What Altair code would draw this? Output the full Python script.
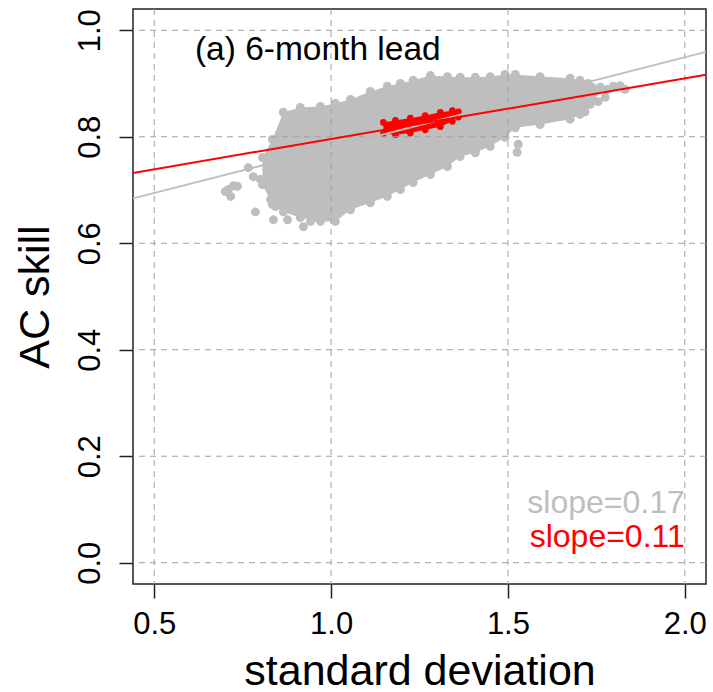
import altair as alt
import pandas as pd

# ---- data ----
# envelope of the dense grey point cloud (standard deviation vs AC skill)
cloud_x = [0.806, 0.834, 0.865, 0.913, 0.970, 1.012, 1.055, 1.111, 1.159, 1.196, 1.232, 1.281,
           1.329, 1.365, 1.408, 1.450, 1.492, 1.521, 1.591, 1.676, 1.704, 1.727, 1.738]
cloud_top = [0.761, 0.795, 0.846, 0.855, 0.857, 0.863, 0.870, 0.885, 0.895, 0.900, 0.906, 0.915,
             0.913, 0.912, 0.912, 0.913, 0.917, 0.917, 0.913, 0.910, 0.906, 0.900, 0.893]
cloud_bot = [0.710, 0.673, 0.659, 0.648, 0.641, 0.641, 0.663, 0.676, 0.688, 0.701, 0.714, 0.729,
             0.744, 0.763, 0.770, 0.782, 0.799, 0.817, 0.823, 0.833, 0.842, 0.861, 0.874]

# isolated grey points outside the dense cloud
out_x = [0.710, 0.724, 0.701, 0.716, 0.735, 0.766, 0.780, 0.800, 0.786, 0.829, 0.843, 0.837,
         0.877, 0.922, 0.942, 0.961, 1.529, 1.526, 1.733, 1.747, 1.761, 1.781, 1.798, 1.817,
         1.831, 1.775, 1.755, 1.704, 1.718]
out_y = [0.701, 0.708, 0.697, 0.688, 0.707, 0.742, 0.725, 0.720, 0.659, 0.682, 0.669, 0.644,
         0.644, 0.631, 0.641, 0.648, 0.786, 0.771, 0.861, 0.885, 0.893, 0.889, 0.895, 0.896,
         0.889, 0.874, 0.866, 0.855, 0.847]

# envelope of the red cluster
red_x = [1.148, 1.182, 1.224, 1.266, 1.309, 1.343, 1.360]
red_top = [0.827, 0.831, 0.835, 0.840, 0.846, 0.849, 0.847]
red_bot = [0.806, 0.804, 0.807, 0.813, 0.819, 0.829, 0.837]

# regression lines
line_names = ["grey", "red"]
line_slope = [0.170, 0.1138]
line_icpt = [0.6094, 0.6821]
line_x = [0.44, 2.06]

x_ticks = [0.5, 1.0, 1.5, 2.0]
y_ticks = [0.0, 0.2, 0.4, 0.6, 0.8, 1.0]

FONT = "Liberation Sans"
GREY = "#BEBEBE"
RED = "#FF0000"

xs = alt.Scale(domain=[0.44, 2.06], nice=False, zero=False)
ys = alt.Scale(domain=[-0.04, 1.04], nice=False, zero=False)

x_axis = alt.Axis(values=x_ticks, format=".1f", title="standard deviation", grid=False,
                  domain=False, tickSize=14, tickWidth=1.5, tickColor="#222222",
                  labelFont=FONT, labelFontSize=31, labelColor="black", labelPadding=11,
                  labelFlush=False, labelOverlap=False,
                  titleFont=FONT, titleFontSize=43, titleFontWeight="normal", titleColor="black",
                  titleX=286.5, titleY=100, titleAlign="center", titleBaseline="alphabetic")
y_axis = alt.Axis(values=y_ticks, format=".1f", title="AC skill", grid=False,
                  domain=False, tickSize=14, tickWidth=1.5, tickColor="#222222",
                  labelFont=FONT, labelFontSize=31, labelColor="black", labelPadding=20,
                  labelAngle=270, labelAlign="center", labelBaseline="alphabetic",
                  labelFlush=False, labelOverlap=False,
                  titleFont=FONT, titleFontSize=43, titleFontWeight="normal", titleColor="black",
                  titleAngle=270, titleX=-85, titleY=287.5, titleAlign="center",
                  titleBaseline="alphabetic")


def X(field):
    return alt.X(field, type="quantitative", scale=xs, axis=x_axis)


def Y(field):
    return alt.Y(field, type="quantitative", scale=ys, axis=y_axis)


cloud_df = pd.DataFrame({"x": cloud_x, "top": cloud_top, "bot": cloud_bot})
out_df = pd.DataFrame({"x": out_x, "y": out_y})
red_df = pd.DataFrame({"x": red_x, "top": red_top, "bot": red_bot})

rows = []
for n, s, a in zip(line_names, line_slope, line_icpt):
    for xv in line_x:
        rows.append({"line": n, "x": xv, "y": a + s * xv})
lines_df = pd.DataFrame(rows)

cloud = alt.Chart(cloud_df).mark_area(color=GREY, interpolate="linear").encode(
    x=X("x"), y=Y("top"), y2="bot")
cloud_top_pts = alt.Chart(cloud_df).mark_circle(color=GREY, size=80, opacity=1).encode(
    x=X("x"), y=Y("top"))
cloud_bot_pts = alt.Chart(cloud_df).mark_circle(color=GREY, size=80, opacity=1).encode(
    x=X("x"), y=Y("bot"))
outliers = alt.Chart(out_df).mark_circle(color=GREY, size=80, opacity=1).encode(
    x=X("x"), y=Y("y"))
red_cluster = alt.Chart(red_df).mark_area(color=RED, interpolate="linear").encode(
    x=X("x"), y=Y("top"), y2="bot")
red_top_pts = alt.Chart(red_df).mark_circle(color=RED, size=45, opacity=1).encode(
    x=X("x"), y=Y("top"))
red_bot_pts = alt.Chart(red_df).mark_circle(color=RED, size=45, opacity=1).encode(
    x=X("x"), y=Y("bot"))

vgrid = alt.Chart(pd.DataFrame({"x": x_ticks})).mark_rule(
    color="#A0A0A0", strokeDash=[6, 5], strokeWidth=1).encode(x=X("x"))
hgrid = alt.Chart(pd.DataFrame({"y": y_ticks})).mark_rule(
    color="#A0A0A0", strokeDash=[6, 5], strokeWidth=1).encode(y=Y("y"))

grey_line = alt.Chart(lines_df[lines_df.line == "grey"]).mark_line(
    color=GREY, strokeWidth=1.8, clip=True).encode(x=X("x"), y=Y("y"))
red_line = alt.Chart(lines_df[lines_df.line == "red"]).mark_line(
    color=RED, strokeWidth=2, clip=True).encode(x=X("x"), y=Y("y"))

panel_txt = alt.Chart(pd.DataFrame({"x": [0.615], "y": [0.945], "t": ["(a) 6-month lead"]})).mark_text(
    font=FONT, fontSize=33.5, align="left", baseline="alphabetic", color="black").encode(
    x=X("x"), y=Y("y"), text="t:N")
slope_g = alt.Chart(pd.DataFrame({"x": [2.0], "y": [0.0926], "t": ["slope=0.17"]})).mark_text(
    font=FONT, fontSize=32, align="right", baseline="alphabetic", color=GREY).encode(
    x=X("x"), y=Y("y"), text="t:N")
slope_r = alt.Chart(pd.DataFrame({"x": [2.0], "y": [0.0297], "t": ["slope=0.11"]})).mark_text(
    font=FONT, fontSize=32, align="right", baseline="alphabetic", color=RED).encode(
    x=X("x"), y=Y("y"), text="t:N")

chart = alt.layer(
    cloud, cloud_top_pts, cloud_bot_pts, outliers, red_cluster, red_top_pts, red_bot_pts,
    vgrid, hgrid, grey_line, red_line, panel_txt, slope_g, slope_r
).properties(
    width=573, height=575,
    autosize=alt.AutoSizeParams(type="none"),
    padding={"left": 133, "top": 9, "right": 7, "bottom": 108},
    background="white",
).configure_view(stroke="#222222", strokeWidth=1.5)

chart.save("out.html", embed_options={"renderer": "svg", "actions": False})
